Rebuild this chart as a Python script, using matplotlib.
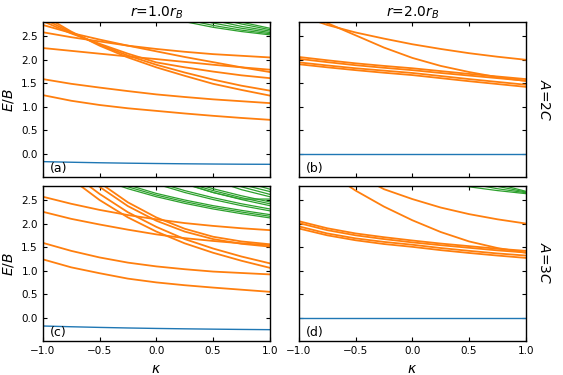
import numpy as np
import matplotlib.pyplot as plt

kappa = [-1.0, -0.75, -0.5, -0.25, 0.0, 0.25, 0.5, 0.75, 1.0]

# ground level (blue)
blue_a = [-0.163, -0.176, -0.187, -0.196, -0.203, -0.209, -0.214, -0.218, -0.22]
blue_b = [0.0] * 9
blue_c = [-0.176, -0.192, -0.206, -0.218, -0.228, -0.236, -0.243, -0.249, -0.254]
blue_d = [0.0] * 9

# panel (a): r=1.0 r_B, A=2C
orange_a = [
    [1.25, 1.13, 1.04, 0.97, 0.915, 0.86, 0.81, 0.765, 0.725],
    [1.59, 1.49, 1.41, 1.335, 1.265, 1.21, 1.16, 1.12, 1.08],
    [2.585, 2.48, 2.39, 2.30, 2.23, 2.17, 2.12, 2.085, 2.05],
    [2.25, 2.19, 2.13, 2.07, 2.015, 1.955, 1.895, 1.84, 1.79],
    [2.74, 2.57, 2.43, 2.30, 2.18, 2.06, 1.95, 1.84, 1.74],
    [2.82, 2.56, 2.34, 2.13, 1.945, 1.84, 1.75, 1.67, 1.61],
    [2.88, 2.58, 2.32, 2.09, 1.895, 1.73, 1.58, 1.45, 1.345],
    [2.95, 2.60, 2.30, 2.05, 1.84, 1.66, 1.49, 1.36, 1.24],
]
green_a = [
    [3.6, 3.4, 3.25, 3.1, 2.95, 2.81, 2.69, 2.60, 2.53],
    [3.7, 3.5, 3.3, 3.15, 3.0, 2.86, 2.73, 2.63, 2.555],
    [3.8, 3.6, 3.4, 3.22, 3.06, 2.92, 2.78, 2.67, 2.58],
    [3.9, 3.7, 3.5, 3.3, 3.13, 2.98, 2.84, 2.71, 2.61],
    [4.0, 3.8, 3.6, 3.4, 3.22, 3.05, 2.90, 2.76, 2.64],
    [4.1, 3.9, 3.7, 3.5, 3.3, 3.12, 2.96, 2.80, 2.67],
]

# panel (b): r=2.0 r_B, A=2C
orange_b = [
    [2.95, 2.74, 2.58, 2.45, 2.33, 2.23, 2.14, 2.065, 2.0],
    [3.10, 2.78, 2.52, 2.26, 2.04, 1.87, 1.74, 1.63, 1.55],
    [2.06, 1.99, 1.925, 1.87, 1.82, 1.76, 1.70, 1.645, 1.59],
    [2.02, 1.95, 1.885, 1.83, 1.78, 1.72, 1.665, 1.61, 1.555],
    [1.945, 1.88, 1.82, 1.77, 1.72, 1.655, 1.59, 1.53, 1.47],
    [1.905, 1.84, 1.78, 1.725, 1.675, 1.61, 1.545, 1.485, 1.425],
]
green_b = []

# panel (c): r=1.0 r_B, A=3C
orange_c = [
    [1.24, 1.07, 0.945, 0.83, 0.75, 0.69, 0.64, 0.595, 0.55],
    [1.59, 1.42, 1.28, 1.17, 1.09, 1.03, 0.98, 0.95, 0.92],
    [2.25, 2.10, 1.98, 1.87, 1.77, 1.69, 1.63, 1.58, 1.54],
    [2.57, 2.42, 2.29, 2.18, 2.09, 2.01, 1.95, 1.90, 1.86],
    [3.4, 2.95, 2.5, 2.13, 1.83, 1.58, 1.38, 1.21, 1.06],
    [3.55, 3.08, 2.63, 2.24, 1.93, 1.67, 1.47, 1.30, 1.155],
    [4.0, 3.3, 2.78, 2.37, 2.06, 1.83, 1.67, 1.57, 1.51],
    [4.1, 3.4, 2.87, 2.45, 2.13, 1.89, 1.72, 1.62, 1.56],
]
green_c = [
    [3.5, 3.2, 2.95, 2.74, 2.57, 2.43, 2.31, 2.21, 2.12],
    [3.54, 3.24, 2.99, 2.78, 2.605, 2.465, 2.345, 2.245, 2.155],
    [3.58, 3.28, 3.03, 2.82, 2.64, 2.50, 2.38, 2.28, 2.19],
    [3.9, 3.6, 3.3, 3.05, 2.84, 2.66, 2.51, 2.38, 2.27],
    [3.95, 3.65, 3.35, 3.1, 2.88, 2.70, 2.55, 2.42, 2.31],
    [4.2, 3.9, 3.6, 3.3, 3.05, 2.84, 2.66, 2.51, 2.38],
    [4.25, 3.95, 3.65, 3.35, 3.09, 2.88, 2.70, 2.55, 2.42],
    [4.3, 4.0, 3.7, 3.4, 3.13, 2.92, 2.74, 2.59, 2.46],
    [4.6, 4.2, 3.8, 3.4, 3.1, 2.85, 2.66, 2.52, 2.52],
    [4.8, 4.4, 4.0, 3.6, 3.25, 3.0, 2.92, 2.72, 2.57],
    [5.0, 4.6, 4.2, 3.8, 3.4, 3.15, 3.0, 2.78, 2.62],
    [5.2, 4.8, 4.4, 4.0, 3.6, 3.3, 3.1, 2.83, 2.68],
    [5.4, 5.0, 4.6, 4.2, 3.8, 3.45, 3.2, 2.90, 2.73],
]

# panel (d): r=2.0 r_B, A=3C
orange_d = [
    [3.55, 3.1, 2.70, 2.36, 2.07, 1.82, 1.62, 1.48, 1.38],
    [3.9, 3.4, 3.05, 2.73, 2.52, 2.34, 2.2, 2.09, 2.0],
    [2.05, 1.90, 1.79, 1.71, 1.64, 1.575, 1.52, 1.465, 1.42],
    [2.01, 1.86, 1.75, 1.67, 1.60, 1.54, 1.485, 1.43, 1.385],
    [1.94, 1.79, 1.685, 1.61, 1.55, 1.48, 1.42, 1.365, 1.32],
    [1.895, 1.75, 1.645, 1.565, 1.505, 1.435, 1.375, 1.32, 1.27],
]
green_d = [
    [3.4, 3.25, 3.1, 3.0, 2.95, 2.90, 2.78, 2.70, 2.635],
    [3.6, 3.45, 3.3, 3.15, 3.05, 2.95, 2.85, 2.74, 2.655],
    [3.8, 3.6, 3.45, 3.3, 3.15, 3.05, 2.95, 2.79, 2.67],
    [4.0, 3.8, 3.6, 3.45, 3.3, 3.15, 3.0, 2.84, 2.685],
]

panels = [
    (blue_a, orange_a, green_a, '(a)'),
    (blue_b, orange_b, green_b, '(b)'),
    (blue_c, orange_c, green_c, '(c)'),
    (blue_d, orange_d, green_d, '(d)'),
]

plt.rcParams['font.size'] = 7.5
fig, axes = plt.subplots(2, 2, figsize=(5.63, 3.75), dpi=100, sharex=True, sharey=True)
fig.subplots_adjust(left=0.076, right=0.934, top=0.941, bottom=0.09, wspace=0.128, hspace=0.054)

for ax, (blue, orange, green, lab) in zip(axes.flat, panels):
    for g in green:
        ax.plot(kappa, g, color='C2', lw=0.9)
    for o in orange:
        ax.plot(kappa, o, color='C1', lw=1.3)
    ax.plot(kappa, blue, color='C0', lw=1.0)
    ax.text(0.03, 0.035, lab, transform=ax.transAxes, fontsize=9)
    ax.tick_params(direction='in', top=True, right=True, length=3, width=0.8)
    ax.set_xlim(-1, 1)
    ax.set_ylim(-0.5, 2.8)
    for s in ax.spines.values():
        s.set_linewidth(1.0)

ax_ticks = axes[1, 0]
ax_ticks.set_xticks([-1.0, -0.5, 0.0, 0.5, 1.0])
ax_ticks.set_yticks([0.0, 0.5, 1.0, 1.5, 2.0, 2.5])

axes[0, 0].set_title(r'$r$=1.0$r_B$', fontsize=10, pad=4)
axes[0, 1].set_title(r'$r$=2.0$r_B$', fontsize=10, pad=4)
axes[0, 0].set_ylabel(r'$E/B$', fontsize=10)
axes[1, 0].set_ylabel(r'$E/B$', fontsize=10)
axes[1, 0].set_xlabel(r'$\kappa$', fontsize=10)
axes[1, 1].set_xlabel(r'$\kappa$', fontsize=10)
axes[0, 1].text(1.08, 0.5, r'$A$=2$C$', transform=axes[0, 1].transAxes, rotation=-90,
                va='center', ha='center', fontsize=10)
axes[1, 1].text(1.08, 0.5, r'$A$=3$C$', transform=axes[1, 1].transAxes, rotation=-90,
                va='center', ha='center', fontsize=10)

fig.savefig('out.png', dpi=100)
